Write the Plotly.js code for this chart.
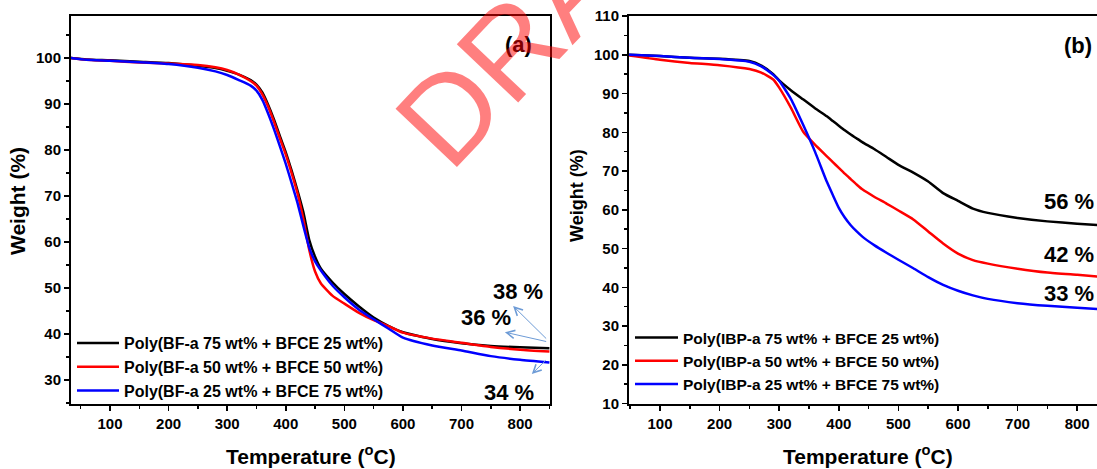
<!DOCTYPE html>
<html>
<head>
<meta charset="utf-8">
<script src="https://cdn.plot.ly/plotly-3.0.1.min.js"></script>
<style>
html,body{margin:0;padding:0;overflow:hidden;background:#fff;}
#chart{width:1115px;height:469px;}
</style>
</head>
<body>
<div id="chart"></div>
<script>
// ---------- Panel (a) data ----------
const tempA = [33, 60, 100, 150, 200, 250, 280, 300, 320, 340, 350, 360, 370, 380, 390, 400, 410, 420, 430, 440, 450, 460, 480, 500, 525, 550, 575, 600, 650, 700, 750, 800, 850];
const bfa75 = [100, 99.7, 99.5, 99.2, 98.9, 98.3, 97.8, 97.2, 96.4, 95.2, 94.2, 92.5, 89.8, 86.6, 83.0, 79.5, 75.5, 71.2, 66.5, 60.5, 56.8, 54.2, 51.2, 48.7, 46.0, 43.6, 41.8, 40.4, 38.9, 38.0, 37.4, 37.1, 36.9];
const bfa50 = [100, 99.6, 99.4, 99.0, 98.8, 98.5, 98.0, 97.4, 96.4, 95.0, 94.0, 92.1, 89.4, 86.1, 82.5, 79.0, 75.0, 70.6, 65.0, 58.3, 53.6, 51.0, 48.3, 46.6, 44.6, 43.0, 41.7, 40.3, 39.0, 38.1, 37.2, 36.6, 36.2];
const bfa25 = [100, 99.6, 99.4, 99.1, 98.7, 97.9, 97.1, 96.3, 95.2, 94.0, 92.9, 90.9, 87.9, 84.5, 80.8, 77.0, 72.8, 68.5, 63.5, 58.8, 55.8, 53.8, 50.5, 48.0, 45.3, 43.2, 41.2, 39.2, 37.5, 36.4, 35.2, 34.4, 33.8];
const namesA = ["Poly(BF-a 75 wt% + BFCE 25 wt%)", "Poly(BF-a 50 wt% + BFCE 50 wt%)", "Poly(BF-a 25 wt% + BFCE 75 wt%)"];

// ---------- Panel (b) data ----------
const tempB = [48, 100, 150, 200, 250, 270, 290, 300, 320, 340, 360, 380, 390, 400, 410, 420, 430, 440, 460, 480, 500, 525, 550, 575, 600, 625, 650, 700, 750, 800, 850];
const ibp75 = [100, 99.7, 99.2, 99.0, 98.4, 97.2, 95.0, 93.4, 90.8, 88.5, 86.2, 84.1, 82.9, 81.7, 80.5, 79.4, 78.4, 77.4, 75.6, 73.6, 71.6, 69.6, 67.3, 64.3, 62.3, 60.3, 59.2, 57.9, 57.0, 56.4, 55.9];
const ibp50 = [99.8, 98.7, 97.9, 97.3, 96.3, 95.4, 93.6, 91.5, 86.2, 80.2, 76.8, 73.8, 72.3, 70.8, 69.3, 67.9, 66.5, 65.2, 63.3, 61.6, 59.8, 57.5, 54.4, 51.3, 48.7, 47.0, 46.1, 44.8, 43.8, 43.2, 42.6];
const ibp25 = [100, 99.7, 99.2, 98.9, 98.2, 97.0, 94.8, 93.3, 88.5, 82.0, 75.0, 67.2, 63.8, 60.5, 58.0, 56.0, 54.4, 53.0, 50.8, 48.9, 47.1, 44.9, 42.6, 40.6, 39.1, 37.9, 37.0, 35.9, 35.2, 34.7, 34.2];
const namesB = ["Poly(IBP-a 75 wt% + BFCE 25 wt%)", "Poly(IBP-a 50 wt% + BFCE 50 wt%)", "Poly(IBP-a 25 wt% + BFCE 75 wt%)"];

// residue labels
const residueA = ["38 %", "36 %", "34 %"];
const residueB = ["56 %", "42 %", "33 %"];

const colors = ["#000000", "#ff0000", "#0000ff"];
const W = 1115, H = 469;
const FONT = "Liberation Sans, Arial, sans-serif";

function tr(x, y, name, i, xa, ya, leg) {
  return {x: x, y: y, name: name, type: "scatter", mode: "lines",
    line: {color: colors[i], width: 2.5, shape: "spline", smoothing: 0.5},
    xaxis: xa, yaxis: ya, legend: leg};
}
const seriesA = [bfa75, bfa50, bfa25];
const seriesB = [ibp75, ibp50, ibp25];
const data = [];
seriesA.forEach((s, i) => data.push(tr(tempA, s, namesA[i], i, "x", "y", "legend")));
seriesB.forEach((s, i) => data.push(tr(tempB, s, namesB[i], i, "x2", "y2", "legend2")));

function axis(extra) {
  return Object.assign({
    showline: true, linewidth: 2, linecolor: "#000", mirror: true,
    ticks: "outside", ticklen: 5, tickwidth: 1.5, tickcolor: "#000",
    showgrid: false, zeroline: false,
    tickfont: {family: FONT, size: 15, color: "#000", weight: "bold"}
  }, extra);
}
function minor(d) {
  return {dtick: d, tick0: 0, ticks: "outside", ticklen: 3, tickwidth: 1.5, tickcolor: "#000"};
}
const yDom = [1 - 403.5 / H, 1 - 16 / H];

const ann = [];
function txt(x, y, text, size, xref, yref, extra) {
  ann.push(Object.assign({x: x, y: y, xref: xref, yref: yref, text: text, showarrow: false,
    font: {family: FONT, size: size, color: "#000", weight: "bold"},
    xanchor: "center", yanchor: "middle"}, extra || {}));
}
// panel labels
txt(798, 103, "(a)", 22, "x", "y");
txt(801, 102.5, "(b)", 22, "x2", "y2");
// residue labels
txt(796, 49.3, residueA[0], 22, "x", "y");
txt(742, 43.7, residueA[1], 22, "x", "y");
txt(781, 27.4, residueA[2], 22, "x", "y");
txt(786, 62.2, residueB[0], 22, "x2", "y2");
txt(786, 48.5, residueB[1], 22, "x2", "y2");
txt(786, 38.4, residueB[2], 22, "x2", "y2");
// axis titles
txt(311 / W, 1 - 455 / H, "Temperature (<sup>o</sup>C)", 21, "paper", "paper");
txt(868 / W, 1 - 455 / H, "Temperature (<sup>o</sup>C)", 21, "paper", "paper");
txt(17 / W, 1 - 201 / H, "Weight (%)", 21, "paper", "paper", {textangle: -90});
txt(577 / W, 1 - 196 / H, "Weight (%)", 18, "paper", "paper", {textangle: -90});
// arrows
function arrow(hx, hy, tx, ty) {
  ann.push({x: hx, y: hy, ax: tx, ay: ty, xref: "x", yref: "y", axref: "x", ayref: "y",
    text: "", showarrow: true, arrowhead: 5, arrowsize: 1.6, arrowwidth: 1, arrowcolor: "#6d9bd6", standoff: 0, startstandoff: 0});
}
arrow(788, 46.1, 847, 38.7);
arrow(774, 40.4, 847, 38.3);
arrow(820, 31.3, 846, 34.6);
// watermark
ann.push({x: 560 / W, y: 1 + 4 / H, xref: "paper", yref: "paper", text: "DRAFT", showarrow: false,
  textangle: -46.5, xanchor: "center", yanchor: "middle",
  font: {family: FONT, size: 123, color: "rgba(255,0,0,0.5)"}});

const layout = {
  width: W, height: H, margin: {l: 0, r: 0, t: 0, b: 0},
  paper_bgcolor: "#fff", plot_bgcolor: "#fff", showlegend: true,
  xaxis: axis({domain: [71 / W, 550 / W], range: [33.4, 851], dtick: 100, tick0: 0, minor: minor(50), anchor: "y"}),
  yaxis: axis({domain: yDom, range: [24.9, 109.13], dtick: 10, tick0: 0, minor: minor(5), anchor: "x"}),
  xaxis2: axis({domain: [629 / W, 1107 / W], range: [48, 850], dtick: 100, tick0: 0, minor: minor(50), anchor: "y2"}),
  yaxis2: axis({domain: yDom, range: [10, 110], dtick: 10, tick0: 0, minor: minor(5), anchor: "x2"}),
  legend: {x: 72 / W, y: 1 - 326 / H, xanchor: "left", yanchor: "top", bgcolor: "rgba(0,0,0,0)",
    font: {family: FONT, size: 16, color: "#000", weight: "bold"}, itemwidth: 42, tracegroupgap: 0, borderwidth: 0},
  legend2: {x: 630 / W, y: 1 - 321 / H, xanchor: "left", yanchor: "top", bgcolor: "rgba(0,0,0,0)",
    font: {family: FONT, size: 15.5, color: "#000", weight: "bold"}, itemwidth: 43, tracegroupgap: 0, borderwidth: 0},
  annotations: ann
};
Plotly.newPlot("chart", data, layout, {displayModeBar: false, staticPlot: true});
</script>
</body>
</html>
